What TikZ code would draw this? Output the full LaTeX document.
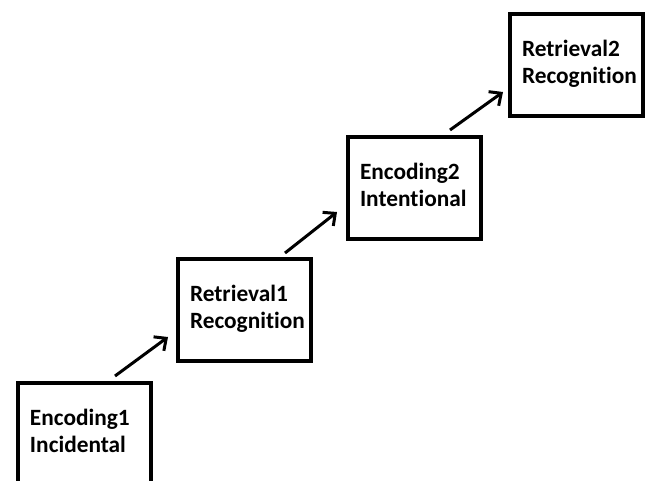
\documentclass[tikz,border=0pt]{standalone}
\usepackage{fontspec}
\setmainfont{Carlito}[Ligatures=NoCommon]
\usetikzlibrary{arrows.meta,calc}
\hfuzz=20pt

\tikzset{
  stagebox/.style={draw, line width=3pt, anchor=north west, inner xsep=9pt, inner ysep=0pt,
    text width=81.75pt, text height=32pt, text depth=44.5pt, align=left,
    font=\fontsize{17.5}{20}\selectfont\bfseries},
  stagearrow/.style={line width=2.25pt, -{Straight Barb[length=7pt,width=13pt]}}
}

\begin{document}
\begin{tikzpicture}[x=0.75pt,y=0.75pt,yscale=-1,xscale=1]
\useasboundingbox (0,0) rectangle (647,480);

%Shape: Rectangle [enc1]
\node [stagebox] (enc1) at (16,381) {Encoding1\\Incidental};
%Shape: Rectangle [ret1]
\node [stagebox] (ret1) at (176,257) {Retrieval1\\Recognition};
%Shape: Rectangle [enc2]
\node [stagebox] (enc2) at (346,135) {Encoding2\\Intentional};
%Shape: Rectangle [ret2]
\node [stagebox] (ret2) at (508,12) {Retrieval2\\Recognition};

%Straight Lines [arrows]
\draw [stagearrow] ($(enc1.north east)+(-38,-5)$) -- ($(ret1.south west)+(-8,-26)$);
\draw [stagearrow] ($(ret1.north east)+(-28,-4)$) -- ($(enc2.south west)+(-9,-29)$);
\draw [stagearrow] ($(enc2.north east)+(-33,-5)$) -- ($(ret2.south west)+(-5,-26)$);

\end{tikzpicture}
\end{document}
